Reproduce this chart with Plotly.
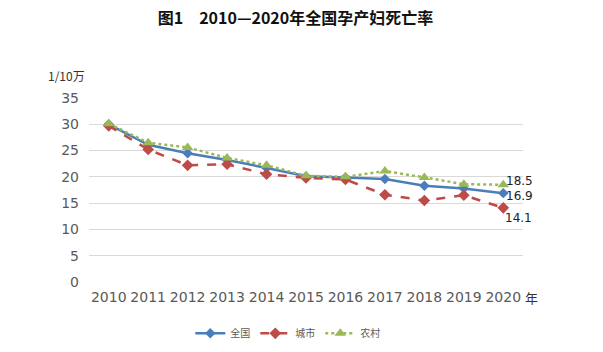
import plotly.graph_objects as go

years = [2010, 2011, 2012, 2013, 2014, 2015, 2016, 2017, 2018, 2019, 2020]
national = [30.0, 26.1, 24.5, 23.2, 21.7, 20.1, 19.9, 19.6, 18.3, 17.8, 16.9]
urban = [29.7, 25.2, 22.2, 22.4, 20.5, 19.8, 19.5, 16.6, 15.5, 16.5, 14.1]
rural = [30.1, 26.5, 25.6, 23.6, 22.2, 20.2, 20.0, 21.1, 19.9, 18.6, 18.5]
y_ticks = [0, 5, 10, 15, 20, 25, 30, 35]

fig = go.Figure()
fig.add_trace(go.Scatter(x=years, y=national, name="全国", mode="lines+markers",
                         line=dict(color="#4A7EBB", width=2.5),
                         marker=dict(symbol="diamond", size=8, color="#4A7EBB")))
fig.add_trace(go.Scatter(x=years, y=urban, name="城市", mode="lines+markers",
                         line=dict(color="#BE4B48", width=2.5, dash="dash"),
                         marker=dict(symbol="diamond", size=9, color="#BE4B48")))
fig.add_trace(go.Scatter(x=years, y=rural, name="农村", mode="lines+markers",
                         line=dict(color="#98B954", width=2.5, dash="dot"),
                         marker=dict(symbol="triangle-up", size=10, color="#98B954")))

# end labels
fig.add_annotation(x=years[-1], y=rural[-1], text=f"{rural[-1]}", showarrow=False,
                   xanchor="left", yanchor="middle", xshift=1, yshift=4,
                   font=dict(family="DejaVu Sans", size=12, color="#222222"))
fig.add_annotation(x=years[-1], y=national[-1], text=f"{national[-1]}", showarrow=False,
                   xanchor="left", yanchor="middle", xshift=1, yshift=-3,
                   font=dict(family="DejaVu Sans", size=12, color="#222222"))
fig.add_annotation(x=years[-1], y=urban[-1], text=f"{urban[-1]}", showarrow=False,
                   xanchor="left", yanchor="middle", xshift=0, yshift=-10,
                   font=dict(family="DejaVu Sans", size=12, color="#222222"))

# axis unit labels
fig.add_annotation(x=-0.052, y=1.065, xref="paper", yref="paper", text="1/10万",
                   showarrow=False, xanchor="center", yanchor="bottom",
                   font=dict(family="Noto Sans CJK SC", size=12, color="#333333"))
fig.add_annotation(x=1.0, y=-0.085, xref="paper", yref="paper", text="年",
                   showarrow=False, xanchor="left", yanchor="middle",
                   font=dict(family="Noto Sans CJK SC", size=13, color="#333333"))

fig.update_layout(
    width=603, height=352,
    margin=dict(l=89, r=80, t=98, b=70, autoexpand=False),
    paper_bgcolor="white", plot_bgcolor="white",
    title=dict(text="<b>图1　2010—2020年全国孕产妇死亡率</b>", x=0.49, xanchor="center",
               y=0.948, yanchor="middle",
               font=dict(family="Noto Sans CJK SC", size=16, color="#111111")),
    showlegend=True,
    legend=dict(orientation="h", x=0.458, xanchor="center", y=-0.2, yanchor="top",
                font=dict(family="Noto Sans CJK SC", size=10, color="#595959"),
                itemwidth=30, tracegroupgap=0),
    xaxis=dict(type="linear", range=[2009.5, 2020.5], tickvals=years, showgrid=False,
               showline=False, zeroline=False, automargin=False,
               tickfont=dict(family="DejaVu Sans", size=14, color="#595959"),
               ticklabelstandoff=5),
    yaxis=dict(range=[0, 35], tickvals=y_ticks, showgrid=True, gridcolor="#D9D9D9",
               gridwidth=1, zeroline=False, showline=False, automargin=False,
               tickfont=dict(family="DejaVu Sans", size=14, color="#595959"),
               ticklabelstandoff=9),
)

fig.write_html("out.html")
